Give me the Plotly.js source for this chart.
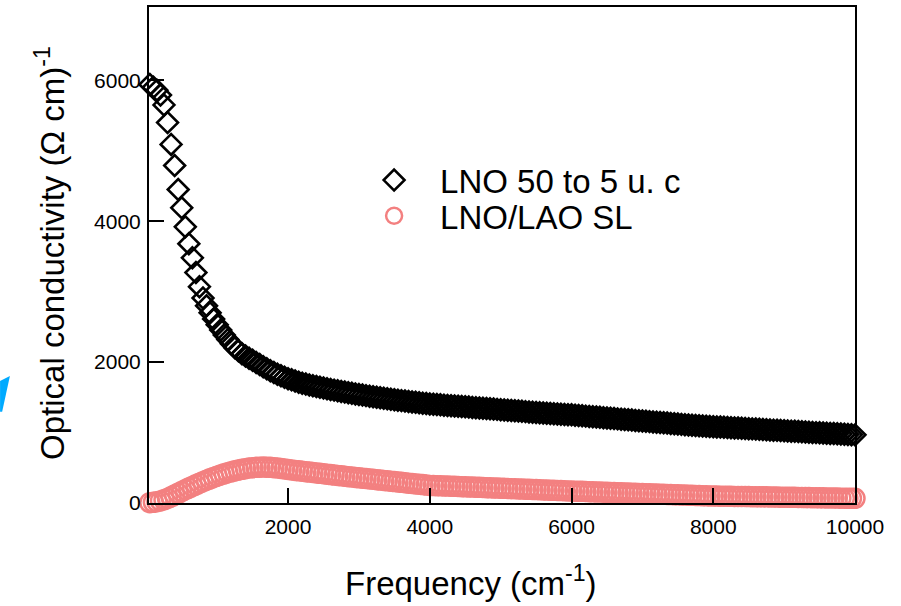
<!DOCTYPE html>
<html>
<head>
<meta charset="utf-8">
<script src="https://cdn.plot.ly/plotly-3.0.1.min.js"></script>
<style>html,body{margin:0;padding:0;background:#fff;}#chart{width:901px;height:606px;}</style>
</head>
<body>
<div id="chart"></div>
<script>
const freq = [50,100,150,200,250,300,350,400,450,500,550,600,650,700,750,800,850,900,950,1000,
1050,1100,1150,1200,1250,1300,1350,1400,1450,1500,1550,1600,1650,1700,1750,1800,1850,1900,1950,2000,
2050,2100,2150,2200,2250,2300,2350,2400,2450,2500,2550,2600,2650,2700,2750,2800,2850,2900,2950,3000,
3050,3100,3150,3200,3250,3300,3350,3400,3450,3500,3550,3600,3650,3700,3750,3800,3850,3900,3950,4000,
4050,4100,4150,4200,4250,4300,4350,4400,4450,4500,4550,4600,4650,4700,4750,4800,4850,4900,4950,5000,
5050,5100,5150,5200,5250,5300,5350,5400,5450,5500,5550,5600,5650,5700,5750,5800,5850,5900,5950,6000,
6050,6100,6150,6200,6250,6300,6350,6400,6450,6500,6550,6600,6650,6700,6750,6800,6850,6900,6950,7000,
7050,7100,7150,7200,7250,7300,7350,7400,7450,7500,7550,7600,7650,7700,7750,7800,7850,7900,7950,8000,
8050,8100,8150,8200,8250,8300,8350,8400,8450,8500,8550,8600,8650,8700,8750,8800,8850,8900,8950,9000,
9050,9100,9150,9200,9250,9300,9350,9400,9450,9500,9550,9600,9650,9700,9750,9800,9850,9900,9950,10000];

const lno50to5 = [5940,5900,5860,5790,5650,5400,5090,4790,4450,4190,3920,3680,3480,3270,3070,2910,2800,2700,2610,2530,
2455,2385,2320,2260,2205,2160,2120,2085,2055,2025,1995,1965,1935,1905,1878,1852,1828,1805,1784,1765,
1748,1730,1715,1700,1688,1676,1664,1653,1642,1632,1622,1612,1602,1593,1584,1575,1566,1557,1548,1540,
1532,1524,1516,1508,1501,1494,1487,1480,1473,1466,1460,1453,1447,1441,1435,1429,1423,1417,1411,1405,
1401,1397,1393,1389,1385,1381,1377,1373,1369,1365,1361,1357,1353,1349,1345,1341,1337,1333,1329,1325,
1321,1317,1313,1309,1305,1301,1297,1293,1289,1285,1281,1277,1273,1269,1266,1263,1260,1257,1254,1251,
1246,1242,1237,1233,1229,1224,1220,1216,1211,1207,1203,1198,1194,1190,1185,1181,1177,1172,1168,1164,
1160,1155,1151,1147,1142,1138,1134,1129,1125,1121,1116,1112,1108,1103,1099,1095,1092,1089,1086,1083,
1080,1078,1075,1072,1069,1066,1063,1060,1057,1054,1052,1049,1046,1043,1040,1037,1034,1031,1028,1025,
1023,1020,1017,1014,1011,1008,1005,1002,999,996,994,991,988,985,982,979,976,973,970,967];

const lnoLaoSL = [5,10,18,30,45,65,88,112,138,163,188,212,235,258,280,302,323,343,362,380,
398,414,429,443,456,468,478,487,495,501,506,509,510,509,506,502,497,490,483,476,
469,463,457,451,445,439,433,427,421,415,409,403,397,391,385,380,374,369,363,358,
353,348,342,337,331,326,320,315,309,304,298,293,288,282,277,271,266,261,255,250,
248,246,244,242,240,238,236,234,232,230,228,226,224,222,220,218,216,214,212,210,
208,206,204,202,200,198,196,194,192,190,188,186,184,182,180,178,176,174,172,170,
168,166,165,163,161,159,157,156,154,152,150,148,147,145,143,141,139,138,136,134,
132,130,129,127,125,123,121,120,118,116,114,112,111,109,107,105,103,102,100,99,
98,97,97,96,95,94,93,92,92,91,90,89,88,87,87,86,85,84,83,82,
82,81,80,79,78,77,77,76,75,74,73,72,72,71,70,69,68,67,67,66];

const seriesNames = ['LNO 50 to 5 u. c', 'LNO/LAO SL'];
const xTicks = [2000, 4000, 6000, 8000, 10000];
const yTicks = [0, 2000, 4000, 6000];

const FONT = 'Arial, "Liberation Sans", sans-serif';
const RED = 'rgb(243,128,128)';

const traces = [
  {
    x: freq, y: lno50to5, name: seriesNames[0], type: 'scatter', mode: 'markers',
    cliponaxis: false, legend: 'legend',
    marker: {symbol: 'diamond-open', size: 16, color: '#000000', line: {width: 2.6, color: '#000000'}}
  },
  {
    x: freq, y: lnoLaoSL, name: seriesNames[1], type: 'scatter', mode: 'markers',
    cliponaxis: false, legend: 'legend2',
    marker: {symbol: 'circle-open', size: 19, color: RED, line: {width: 2.5, color: RED}}
  }
];

const axisCommon = {
  showgrid: false, zeroline: false, showline: true, linecolor: '#000', linewidth: 2,
  mirror: true, ticks: 'inside', ticklen: 15, tickwidth: 2, tickcolor: '#000',
  tickfont: {family: FONT, size: 21, color: '#000'}
};

const layout = {
  width: 901, height: 606,
  margin: {l: 149, r: 46, t: 7, b: 103, pad: 0},
  paper_bgcolor: '#fff', plot_bgcolor: '#fff',
  font: {family: FONT, color: '#000'},
  xaxis: Object.assign({}, axisCommon, {range: [38, 10000], tickvals: xTicks, ticktext: xTicks.map(String), ticklabelstandoff: 4}),
  yaxis: Object.assign({}, axisCommon, {range: [0, 7040], tickvals: yTicks, ticktext: yTicks.map(String), ticklabelstandoff: 2}),
  showlegend: true,
  legend: {x: 0.282, y: 0.651, xanchor: 'left', yanchor: 'middle', bgcolor: 'rgba(0,0,0,0)', itemwidth: 82,
           font: {family: FONT, size: 33, color: '#000'}},
  legend2: {x: 0.282, y: 0.579, xanchor: 'left', yanchor: 'middle', bgcolor: 'rgba(0,0,0,0)', itemwidth: 82,
           font: {family: FONT, size: 33, color: '#000'}},
  annotations: [
    {text: 'Frequency (cm<sup>-1</sup>)', xref: 'paper', yref: 'paper', x: 0.456, y: -0.157,
     xanchor: 'center', yanchor: 'middle', showarrow: false, font: {family: FONT, size: 33, color: '#000'}},
    {text: 'Optical conductivity (Ω cm)<sup>-1</sup>', xref: 'paper', yref: 'paper', x: -0.141, y: 0.505,
     xanchor: 'center', yanchor: 'middle', textangle: -90, showarrow: false, font: {family: FONT, size: 33, color: '#000'}}
  ],
  shapes: [
    {type: 'path', xref: 'paper', yref: 'paper', path: 'M -0.211,0.246 L -0.197,0.256 L -0.208,0.184 L -0.211,0.184 Z',
     fillcolor: 'rgb(0,170,255)', line: {width: 0}}
  ]
};

Plotly.newPlot('chart', traces, layout, {displayModeBar: false, staticPlot: true});
</script>
</body>
</html>
